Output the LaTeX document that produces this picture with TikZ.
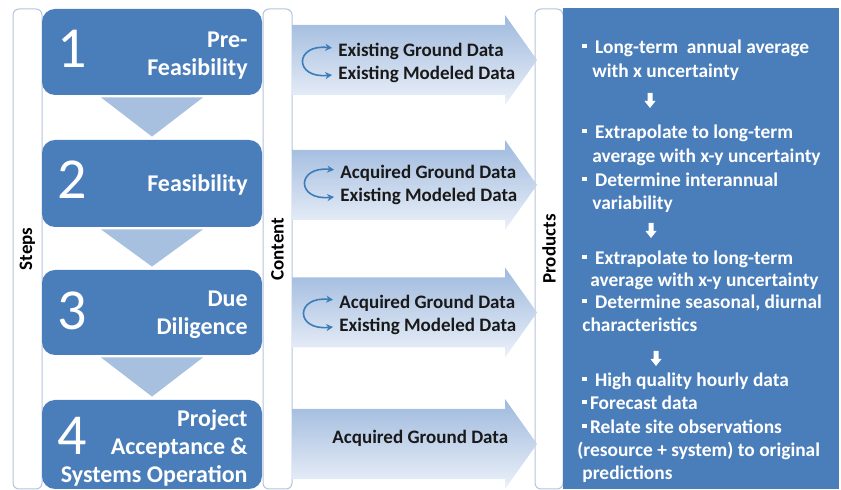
\documentclass[tikz,border=0pt]{standalone}
\usepackage{fontspec}
\setmainfont{Carlito}
\usetikzlibrary{arrows.meta,positioning,calc}
\definecolor{stepblue}{RGB}{74,126,187}
\definecolor{dropblue}{RGB}{167,192,223}
\definecolor{arrtop}{RGB}{158,185,221}
\definecolor{arrbot}{RGB}{236,241,249}
\definecolor{frameline}{RGB}{180,196,218}
\definecolor{swapblue}{RGB}{60,125,185}
\tikzset{
  colframe/.style ={draw=frameline,line width=0.5pt,rounded corners=3pt,fill=white,
                    rotate=90,minimum width=240pt,minimum height=14.5pt,inner sep=0pt,
                    font=\fontsize{9.5}{11}\selectfont\bfseries},
  stepbox/.style  ={fill=stepblue,rounded corners=6.5pt,minimum width=110pt,inner sep=0pt},
  stepnum/.style  ={anchor=west,inner sep=0pt,text=white,font=\fontsize{29}{30}\selectfont},
  steptxt/.style  ={anchor=base east,inner sep=0pt,align=right,text=white,
                    font=\fontsize{12}{14}\selectfont\bfseries},
  droptri/.style  ={fill=dropblue},
  flowarr/.style  ={top color=arrtop,bottom color=arrbot},
  ctxt/.style     ={anchor=base west,inner sep=0pt,text=black!90,
                    font=\fontsize{9.5}{11}\selectfont\bfseries},
  swaparr/.style  ={draw=swapblue,line width=0.8pt,
                    {Stealth[length=3.4pt,width=3.6pt]}-{Stealth[length=3.4pt,width=3.6pt]}},
  prodpanel/.style={fill=stepblue,minimum width=138pt,minimum height=240.5pt,inner sep=0pt},
  ptxt/.style     ={anchor=base west,inner sep=0pt,text=white,
                    font=\fontsize{9.7}{11.75}\selectfont\bfseries},
  downarr/.style  ={fill=white},
}
\newcommand{\pbul}{\rule[3pt]{2.2pt}{2.2pt}\hspace{4.2pt}}
\newcommand{\pbut}{\rule[3pt]{2.2pt}{2.2pt}\hspace{1.6pt}}

\begin{document}
\begin{tikzpicture}[x=0.5pt,y=-0.5pt]
\useasboundingbox (0,0) rectangle (841,490);
% column frames with their labels
\node[colframe] (fsteps) at (27.5,249) {Steps};
\node[colframe] (fcont) at (277.5,249) {Content};
\node[colframe,minimum height=14pt] (fprod) at (549,249) {Products};
\node[prodpanel] (prod) at (701,248.5) {};
% steps
\foreach \yc/\hh [count=\i] in {52/86,183.5/87,312.5/85,444.5/89}
  \node[stepbox,minimum height=\hh*0.5pt] (s\i) at (152,\yc) {};
\foreach \a/\b in {1/2,2/3,3/4}
  \fill[droptri] ($(s\a.south)+(-51,2)$) -- ($(s\a.south)+(51,2)$) -- ($(s\b.north)+(0,-3)$) -- cycle;
\foreach \yc [count=\i] in {49,180,311,436}
  \node[stepnum] (n\i) at (57,\yc) {\i};
\node[steptxt] (t1) at (248,76) {Pre-\\Feasibility};
\node[steptxt] (t2) at (248,192) {Feasibility};
\node[steptxt] (t3) at (248,335) {Due\\Diligence};
\node[steptxt] (t4) at (248,483) {Project\\Acceptance \&\\Systems Operation};
% content arrows
\foreach \yc in {60,185,312.5,444}
  \shade[flowarr] (292,\yc-35) -- (505,\yc-35) -- (505,\yc-45) -- (537,\yc)
    -- (505,\yc+45) -- (505,\yc+35) -- (292,\yc+35) -- cycle;
\node[ctxt] (g1) at (338,57) {Existing Ground Data};
\node[ctxt] (m1) at (338,80) {Existing Modeled Data};
\node[ctxt] (g2) at (340,179) {Acquired Ground Data};
\node[ctxt] (m2) at (340,202) {Existing Modeled Data};
\node[ctxt] (g3) at (339,309) {Acquired Ground Data};
\node[ctxt] (m3) at (339,332) {Existing Modeled Data};
\node[ctxt] (g4) at (332,444) {Acquired Ground Data};
\foreach \i in {1,2,3}
  \draw[swaparr] ([xshift=-3pt,yshift=2pt]g\i.west) .. controls +(-38,-4) and +(-38,4) .. ([xshift=-3pt]m\i.west);
% products
\foreach \yb/\xb/\ln [count=\i] in {
  54/582/{\pbul Long-term~ annual average},
  78/592/{with x uncertainty},
  139/582/{\pbul Extrapolate to long-term},
  163/592/{average with x-y uncertainty},
  187/582/{\pbul Determine interannual},
  210/592/{variability},
  265/582/{\pbul Extrapolate to long-term},
  287/590/{average with x-y uncertainty},
  309/582/{\pbul Determine seasonal, diurnal},
  332/582/{characteristics},
  387/582/{\pbul High quality hourly data},
  410/582/{\pbut Forecast data},
  434/582/{\pbut Relate site observations},
  457/577/{(resource + system) to original},
  480/582/{predictions}}
  \node[ptxt] (p\i) at (\xb,\yb) {\ln};
\coordinate (d1) at (650,101);
\coordinate (d2) at (651,231);
\coordinate (d3) at (656,359);
\foreach \d in {d1,d2,d3}
  \fill[downarr] (\d) ++(-2.5,-8) -- ++(5,0) -- ++(0,8) -- ++(3,0) -- ++(-5.5,7) -- ++(-5.5,-7) -- ++(3,0) -- cycle;
\end{tikzpicture}
\end{document}
